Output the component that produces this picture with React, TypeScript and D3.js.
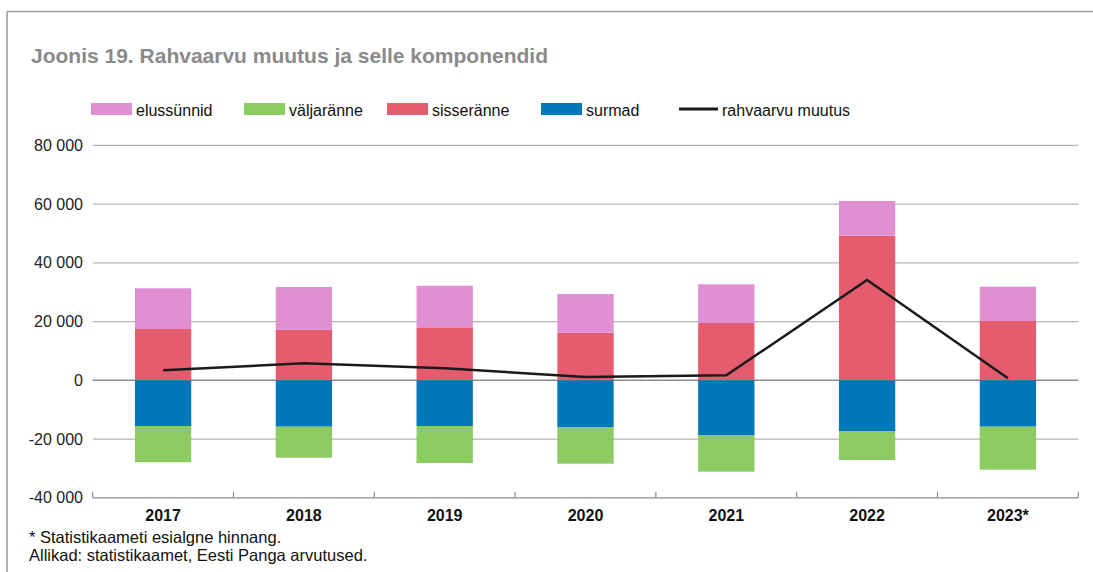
import React from "react";
import * as d3 from "d3";

const years = ["2017", "2018", "2019", "2020", "2021", "2022", "2023*"];
const elussunnid = [13860, 14530, 14160, 13180, 13180, 11810, 11680];
const sisseranne = [17460, 17230, 18040, 16200, 19500, 49230, 20190];
const surmad = [-15560, -15800, -15560, -15900, -18620, -17260, -15790];
const valjaranne = [-12350, -10550, -12590, -12490, -12490, -9870, -14640];
const muutus = [3400, 5790, 4090, 1120, 1700, 34150, 680];
const yTicks = [-40000, -20000, 0, 20000, 40000, 60000, 80000];

const legendItems = [
  { key: "elussunnid", label: "elussünnid", x: 91, color: "#e090d2" },
  { key: "valjaranne", label: "väljaränne", x: 244, color: "#8bcb62" },
  { key: "sisseranne", label: "sisseränne", x: 387, color: "#e65c6f" },
  { key: "surmad", label: "surmad", x: 541, color: "#0077b9" },
];

const colors: Record<string, string> = {
  elussunnid: "#e090d2",
  valjaranne: "#8bcb62",
  sisseranne: "#e65c6f",
  surmad: "#0077b9",
};

const font = "'Liberation Sans', Arial, Helvetica, sans-serif";

const App = () => {
  const width = 1093;
  const height = 572;

  const table = years.map((year, i) => ({
    year,
    sisseranne: sisseranne[i],
    surmad: surmad[i],
    elussunnid: elussunnid[i],
    valjaranne: valjaranne[i],
  }));

  const series = d3
    .stack<any>()
    .keys(["sisseranne", "surmad", "elussunnid", "valjaranne"])
    .offset(d3.stackOffsetDiverging)(table);

  const x = d3
    .scaleBand()
    .domain(years)
    .range([92.7, 1078.3])
    .paddingInner(0.6)
    .paddingOuter(0.3);

  const y = d3.scaleLinear().domain([-40000, 80000]).range([497.8, 145.3]);

  const fmt = d3
    .formatLocale({ decimal: ",", thousands: " ", grouping: [3], currency: ["", ""], minus: "-" })
    .format(",d");

  const line = d3
    .line<number>()
    .x((_, i) => (x(years[i]) as number) + x.bandwidth() / 2)
    .y((d) => y(d));

  const [x0, x1] = x.range();
  const boundaries = years.map((yr) => (x(yr) as number) - x.step() * 0.3).concat([x1]);

  return (
    <svg
      width={width}
      height={height}
      style={{ position: "absolute", left: 0, top: 0, display: "block", background: "#fff" }}
      fontFamily={font}
    >
      {/* frame */}
      <line x1={7} x2={width} y1={11.5} y2={11.5} stroke="#9a9a9a" strokeWidth={1.5} />
      <line x1={7} x2={7} y1={11.5} y2={height} stroke="#9a9a9a" strokeWidth={1.5} />

      <text x={31} y={62.5} fontSize={21} fontWeight="bold" fill="#8a8a8a">
        Joonis 19. Rahvaarvu muutus ja selle komponendid
      </text>

      {/* legend */}
      {legendItems.map((d) => (
        <g key={d.key}>
          <rect x={d.x} y={103} width={41} height={12} fill={d.color} />
          <text x={d.x + 45} y={115.5} fontSize={16} fill="#111">
            {d.label}
          </text>
        </g>
      ))}
      <line x1={679} x2={718} y1={109} y2={109} stroke="#1a1a1a" strokeWidth={3} />
      <text x={722} y={115.5} fontSize={16} fill="#111">
        rahvaarvu muutus
      </text>

      {/* grid */}
      {yTicks.map((t) => (
        <g key={t}>
          {t > -40000 && (
            <line
              x1={x0}
              x2={x1}
              y1={y(t)}
              y2={y(t)}
              stroke={t === 0 ? "#8c8c8c" : "#b4b4b4"}
              strokeWidth={t === 0 ? 1.5 : 1.2}
            />
          )}
          <text x={83} y={y(t) + 5.5} fontSize={16} textAnchor="end" fill="#222">
            {fmt(t)}
          </text>
        </g>
      ))}

      {/* bars */}
      {series.map((s) => (
        <g key={s.key} fill={colors[s.key]}>
          {s.map((d, i) => (
            <rect
              key={years[i]}
              x={x(years[i])}
              y={y(Math.max(d[0], d[1]))}
              width={x.bandwidth()}
              height={Math.abs(y(d[0]) - y(d[1]))}
            />
          ))}
        </g>
      ))}

      {/* x axis */}
      <line x1={x0} x2={x1} y1={y(-40000)} y2={y(-40000)} stroke="#8c8c8c" strokeWidth={1.2} />
      {boundaries.map((b, i) => (
        <line key={i} x1={b} x2={b} y1={y(-40000)} y2={y(-40000) - 6} stroke="#8c8c8c" strokeWidth={1.2} />
      ))}
      {years.map((yr) => (
        <text
          key={yr}
          x={(x(yr) as number) + x.bandwidth() / 2}
          y={521}
          fontSize={16}
          fontWeight="bold"
          textAnchor="middle"
          fill="#111"
        >
          {yr}
        </text>
      ))}

      {/* net change line */}
      <path d={line(muutus) as string} fill="none" stroke="#1a1a1a" strokeWidth={2.5} />

      <text x={29} y={542.5} fontSize={16.5} fill="#111">
        * Statistikaameti esialgne hinnang.
      </text>
      <text x={29} y={561} fontSize={16.5} fill="#111">
        Allikad: statistikaamet, Eesti Panga arvutused.
      </text>
    </svg>
  );
};

export default App;
